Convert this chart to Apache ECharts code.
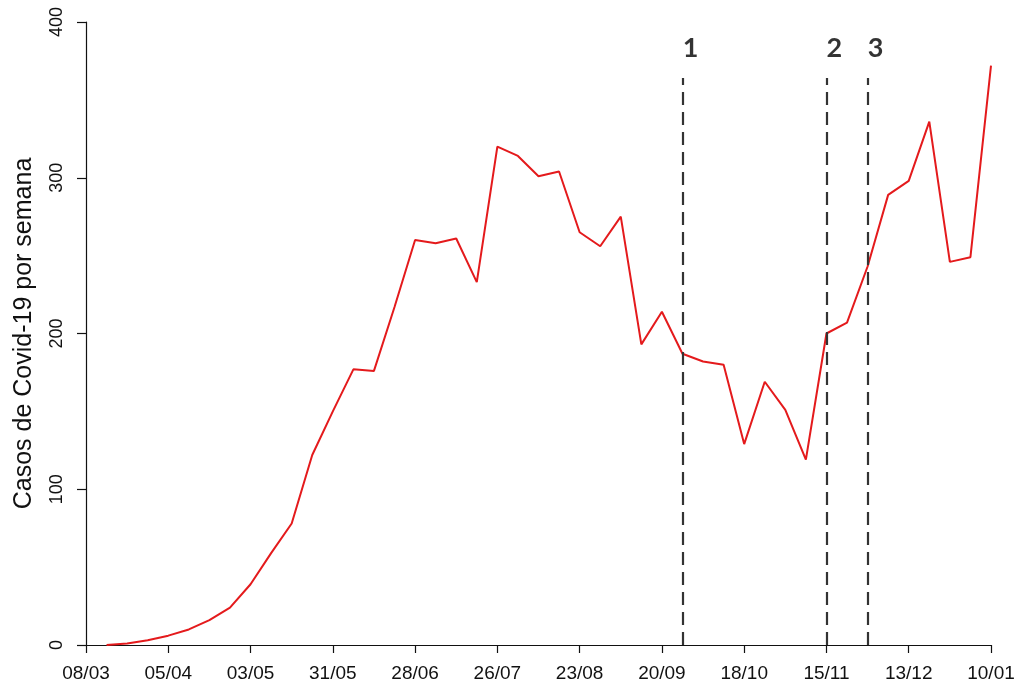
<!DOCTYPE html>
<html>
<head>
<meta charset="utf-8">
<script src="https://cdn.jsdelivr.net/npm/echarts@6/dist/echarts.min.js"></script>
<style>
  html, body { margin: 0; padding: 0; background: #fff; }
  #chart { width: 1023px; height: 685px; }
</style>
</head>
<body>
<div id="chart"></div>
<script>
// Weekly dates, 08/03 to 10/01
const weeks = [
  '08/03','15/03','22/03','29/03','05/04','12/04','19/04','26/04',
  '03/05','10/05','17/05','24/05','31/05','07/06','14/06','21/06',
  '28/06','05/07','12/07','19/07','26/07','02/08','09/08','16/08',
  '23/08','30/08','06/09','13/09','20/09','27/09','04/10','11/10',
  '18/10','25/10','01/11','08/11','15/11','22/11','29/11','06/12',
  '13/12','20/12','27/12','03/01','10/01'
];

// Covid-19 cases per week (no record for the first week)
const cases = [
  '-', 0, 1, 3, 6, 10, 16, 24,
  39, 59, 78, 122, 150, 177, 176, 217,
  260, 258, 261, 233, 320, 314, 301, 304,
  265, 256, 275, 193, 214, 187, 182, 180,
  129, 169, 151, 119, 200, 207, 243, 289,
  298, 336, 246, 249, 372
];

// Reference events marked on the timeline
const eventWeeks = ['27/09', '15/11', '29/11'];
const eventLabels = ['1', '2', '3'];

// Y axis ticks
const yTicks = [0, 100, 200, 300, 400];

const LINE_TOP = 364;   // top of the dashed event lines, in case units
const LABEL_Y = 383;    // height of the event numbers, in case units
const FONT = '"Liberation Sans", Arial, sans-serif';

const chart = echarts.init(document.getElementById('chart'), null, { renderer: 'canvas' });

chart.setOption({
  animation: false,
  backgroundColor: '#ffffff',
  grid: {
    left: 86, right: 32, top: 22, bottom: 40,
    containLabel: false,
    outerBoundsMode: 'none'
  },
  xAxis: {
    type: 'category',
    data: weeks,
    boundaryGap: false,
    axisLine: { show: true, lineStyle: { color: '#111', width: 1.2 } },
    axisTick: { show: true, interval: 3, length: 8, lineStyle: { color: '#111', width: 1.2 } },
    axisLabel: {
      interval: 3, margin: 19, color: '#111',
      fontFamily: FONT, fontSize: 19
    },
    splitLine: { show: false }
  },
  yAxis: {
    type: 'value',
    min: yTicks[0],
    max: yTicks[yTicks.length - 1],
    interval: yTicks[1] - yTicks[0],
    name: 'Casos de Covid-19 por semana',
    nameLocation: 'middle',
    nameGap: 49,
    nameTextStyle: { color: '#111', fontFamily: FONT, fontSize: 25 },
    axisLine: { show: true, lineStyle: { color: '#111', width: 1.2 } },
    axisTick: { show: true, length: 9, lineStyle: { color: '#111', width: 1.2 } },
    axisLabel: {
      rotate: 90, margin: 20, color: '#111',
      fontFamily: FONT, fontSize: 18
    },
    splitLine: { show: false }
  },
  series: [
    {
      type: 'line',
      data: cases,
      symbol: 'none',
      lineStyle: { color: '#e41a1c', width: 2 },
      z: 3,
      markLine: {
        silent: true,
        symbol: ['none', 'none'],
        label: { show: false },
        lineStyle: { color: '#333', width: 2.2, type: [13, 7] },
        data: eventWeeks.map(w => [{ coord: [w, 0] }, { coord: [w, LINE_TOP] }])
      }
    },
    {
      type: 'scatter',
      data: eventWeeks.map((w, i) => ({ value: [w, LABEL_Y], name: eventLabels[i] })),
      symbolSize: 0,
      silent: true,
      label: {
        show: true,
        position: 'inside',
        offset: [8, 0],
        formatter: p => p.name,
        color: '#000',
        fontFamily: 'Lato, "Open Sans", sans-serif',
        fontWeight: 'bold',
        fontSize: 27
      }
    }
  ]
});
</script>
</body>
</html>
